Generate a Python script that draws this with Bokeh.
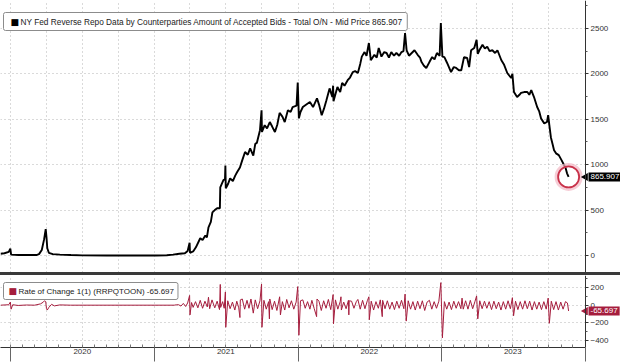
import pandas as pd
from bokeh.plotting import figure
from bokeh.models import Range1d, FixedTicker, Label, Div, BoxAnnotation
from bokeh.layouts import column
from bokeh.embed import file_html
from bokeh.resources import INLINE

# ---------------- data ----------------
price_dates = [
    "2019-12-06", "2019-12-16", "2019-12-27", "2019-12-31", "2020-01-02", "2020-01-21", "2020-02-14",
    "2020-03-06", "2020-03-13", "2020-03-20", "2020-03-26", "2020-03-30", "2020-04-01", "2020-04-03",
    "2020-04-07", "2020-04-17", "2020-05-05", "2020-06-02", "2020-07-01", "2020-09-01", "2020-11-02",
    "2021-01-04", "2021-02-01", "2021-02-17", "2021-03-05", "2021-03-19", "2021-03-26", "2021-03-31",
    "2021-04-01", "2021-04-09", "2021-04-16", "2021-04-27", "2021-05-03", "2021-05-10", "2021-05-14",
    "2021-05-18", "2021-05-24", "2021-05-28", "2021-06-03", "2021-06-09", "2021-06-16", "2021-06-17",
    "2021-06-25", "2021-06-29", "2021-06-30", "2021-07-01", "2021-07-07", "2021-07-12", "2021-07-19",
    "2021-07-25", "2021-07-30", "2021-08-06", "2021-08-12", "2021-08-19", "2021-08-26", "2021-09-01",
    "2021-09-09", "2021-09-14", "2021-09-18", "2021-09-26", "2021-09-30", "2021-10-01", "2021-10-08",
    "2021-10-14", "2021-10-21", "2021-10-27", "2021-11-03", "2021-11-09", "2021-11-15", "2021-11-22",
    "2021-11-28", "2021-12-06", "2021-12-13", "2021-12-18", "2021-12-28", "2021-12-31", "2022-01-03",
    "2022-01-07", "2022-01-13", "2022-01-21", "2022-01-31", "2022-02-08", "2022-02-18", "2022-02-24",
    "2022-03-02", "2022-03-08", "2022-03-14", "2022-03-22", "2022-03-29", "2022-03-31", "2022-04-01",
    "2022-04-11", "2022-04-18", "2022-04-23", "2022-04-29", "2022-05-07", "2022-05-13", "2022-05-20",
    "2022-05-26", "2022-06-02", "2022-06-08", "2022-06-12", "2022-06-19", "2022-06-24", "2022-06-30",
    "2022-07-05", "2022-07-14", "2022-07-20", "2022-07-25", "2022-08-01", "2022-08-08", "2022-08-14",
    "2022-08-20", "2022-08-26", "2022-09-02", "2022-09-08", "2022-09-15", "2022-09-21", "2022-09-26",
    "2022-09-30", "2022-10-04", "2022-10-10", "2022-10-17", "2022-10-24", "2022-11-01", "2022-11-07",
    "2022-11-11", "2022-11-17", "2022-11-23", "2022-12-01", "2022-12-08", "2022-12-14", "2022-12-20",
    "2022-12-27", "2022-12-30", "2023-01-03", "2023-01-08", "2023-01-15", "2023-01-25", "2023-02-01",
    "2023-02-07", "2023-02-14", "2023-02-20", "2023-02-27", "2023-03-07", "2023-03-12", "2023-03-17",
    "2023-03-25", "2023-03-31", "2023-04-03", "2023-04-07", "2023-04-15", "2023-04-21", "2023-04-27",
    "2023-05-03", "2023-05-10", "2023-05-17", "2023-05-23", "2023-06-02", "2023-06-09", "2023-06-17",
    "2023-06-27", "2023-06-30", "2023-07-04", "2023-07-12", "2023-07-18", "2023-07-22", "2023-07-30",
    "2023-08-07", "2023-08-12", "2023-08-17", "2023-08-24", "2023-09-01", "2023-09-06", "2023-09-11",
    "2023-09-19", "2023-09-26", "2023-09-29", "2023-10-02", "2023-10-06", "2023-10-10", "2023-10-14",
    "2023-10-19", "2023-10-26", "2023-11-02", "2023-11-08", "2023-11-12", "2023-11-16", "2023-11-20",
]
price_values = [
    20, 25, 40, 75, 10, 5, 5,
    5, 15, 60, 180, 290, 200, 80,
    30, 15, 10, 5, 2, 1, 1,
    1, 3, 10, 20, 25, 50, 140,
    30, 45, 90, 190, 170, 220, 200,
    310, 370, 475, 500, 520, 520, 750,
    830, 840, 990, 740, 790, 850, 820,
    880, 920, 970, 1050, 1140, 1110, 1180,
    1100, 1230, 1240, 1380, 1600, 1360, 1435,
    1400, 1470, 1420, 1360, 1440, 1570, 1530,
    1470, 1600, 1580, 1635, 1650, 1905, 1510,
    1580, 1635, 1660, 1690, 1635, 1730, 1650,
    1545, 1620, 1710, 1840, 1745, 1870, 1700,
    1855, 1800, 1900, 1870, 1930, 1960, 2020,
    2030, 2010, 2110, 2190, 2240, 2200, 2340,
    2150, 2210, 2180, 2285, 2190, 2240, 2230,
    2180, 2240, 2200, 2230, 2200, 2240, 2250,
    2450, 2260, 2200, 2230, 2260, 2210, 2180,
    2130, 2090, 2065, 2130, 2185, 2160, 2230,
    2200, 2560, 2190, 2185, 2120, 2020, 2075,
    2065, 2040, 2040, 2185, 2175, 2075, 2260,
    2285, 2375, 2220, 2260, 2320, 2280, 2300,
    2250, 2260, 2230, 2260, 2150, 2100, 2010,
    1955, 2000, 1800, 1745, 1770, 1790, 1800,
    1800, 1770, 1820, 1745, 1635, 1590, 1510,
    1455, 1470, 1545, 1435, 1300, 1230, 1160,
    1125, 1105, 1050, 1000, 970, 905, 865.907,
]

roc_dates = [
    "2019-12-06", "2019-12-27", "2019-12-31", "2020-01-02", "2020-01-06", "2020-01-20", "2020-02-10",
    "2020-03-02", "2020-03-17", "2020-03-24", "2020-03-27", "2020-03-30", "2020-04-01", "2020-04-03",
    "2020-04-07", "2020-04-14", "2020-04-21", "2020-05-05", "2020-06-01", "2021-02-20", "2021-02-26",
    # 2021
    "2021-03-03", "2021-03-09", "2021-03-15", "2021-03-21", "2021-03-26", "2021-03-31", "2021-04-01",
    "2021-04-05", "2021-04-09", "2021-04-15", "2021-04-21", "2021-04-27",
    "2021-05-03", "2021-05-09", "2021-05-15", "2021-05-18", "2021-05-21", "2021-05-27",
    "2021-06-03", "2021-06-09", "2021-06-15", "2021-06-17", "2021-06-18", "2021-06-23", "2021-06-27",
    "2021-06-30", "2021-07-01", "2021-07-06", "2021-07-12", "2021-07-18", "2021-07-24", "2021-07-29",
    "2021-08-03", "2021-08-06", "2021-08-07", "2021-08-12", "2021-08-18", "2021-08-24", "2021-08-29",
    "2021-09-03", "2021-09-09", "2021-09-14", "2021-09-20", "2021-09-26", "2021-09-30", "2021-10-01",
    "2021-10-06", "2021-10-12", "2021-10-18", "2021-10-20", "2021-10-21", "2021-10-27",
    "2021-11-02", "2021-11-08", "2021-11-15", "2021-11-17", "2021-11-22", "2021-11-28",
    "2021-12-03", "2021-12-09", "2021-12-15", "2021-12-21", "2021-12-27", "2021-12-31", "2022-01-03",
    # 2022
    "2022-01-07", "2022-01-13", "2022-01-19", "2022-01-25", "2022-01-31",
    "2022-02-05", "2022-02-11", "2022-02-17", "2022-02-18", "2022-02-23",
    "2022-03-01", "2022-03-07", "2022-03-13", "2022-03-19", "2022-03-25", "2022-03-31", "2022-04-01",
    "2022-04-06", "2022-04-12", "2022-04-18", "2022-04-20", "2022-04-21", "2022-04-27",
    "2022-05-03", "2022-05-09", "2022-05-10", "2022-05-11", "2022-05-17", "2022-05-23", "2022-05-29",
    "2022-06-02", "2022-06-08", "2022-06-14", "2022-06-20", "2022-06-26", "2022-06-30", "2022-07-01",
    "2022-07-06", "2022-07-12", "2022-07-18", "2022-07-24", "2022-07-29",
    "2022-08-03", "2022-08-04", "2022-08-10", "2022-08-16", "2022-08-22", "2022-08-28",
    "2022-09-03", "2022-09-09", "2022-09-15", "2022-09-21", "2022-09-27", "2022-09-30", "2022-10-03",
    "2022-10-08", "2022-10-14", "2022-10-20", "2022-10-26",
    "2022-11-01", "2022-11-07", "2022-11-13", "2022-11-19", "2022-11-25",
    "2022-12-01", "2022-12-07", "2022-12-13", "2022-12-19", "2022-12-25", "2022-12-30", "2023-01-03",
    # 2023
    "2023-01-08", "2023-01-14", "2023-01-20", "2023-01-26",
    "2023-02-01", "2023-02-07", "2023-02-13", "2023-02-19", "2023-02-22", "2023-02-25",
    "2023-03-03", "2023-03-09", "2023-03-15", "2023-03-21", "2023-03-27", "2023-03-31", "2023-04-03",
    "2023-04-08", "2023-04-14", "2023-04-20", "2023-04-26",
    "2023-05-02", "2023-05-08", "2023-05-14", "2023-05-20", "2023-05-26",
    "2023-06-01", "2023-06-07", "2023-06-13", "2023-06-19", "2023-06-25", "2023-06-30", "2023-07-03",
    "2023-07-08", "2023-07-14", "2023-07-20", "2023-07-26",
    "2023-08-01", "2023-08-07", "2023-08-13", "2023-08-19", "2023-08-25", "2023-08-31",
    "2023-09-06", "2023-09-12", "2023-09-18", "2023-09-24", "2023-09-29", "2023-10-02",
    "2023-10-07", "2023-10-13", "2023-10-19", "2023-10-25", "2023-10-31",
    "2023-11-06", "2023-11-12", "2023-11-17", "2023-11-20",
]
roc_values = [
    0, 5, 35, -45, 5, -3, 2,
    0, 15, 35, 50, 40, -40, -55,
    -25, 10, -8, 3, 0, 0, 5,
    # 2021
    5, -10, 20, -15, 25, 110, -110,
    30, -25, 40, -30, 55,
    -35, 45, -20, 90, -40, 60,
    -30, 45, -50, 235, -25, 40, -35,
    150, -250, 50, -40, 35, -55, 45,
    -30, -140, 60, 70, -45, 55, -35,
    70, -90, 60, -40, 50, 240, -250,
    55, -45, 40, -155, 70, -50,
    45, -60, 95, -110, 40, -55,
    65, -30, 50, -45, 35, 210, -340,
    # 2022
    50, 60, -35, 40, -45,
    55, -40, -130, 70, 45,
    -60, 50, -35, 65, -50, 120, -210,
    60, -45, 40, 95, -55, 35,
    -40, 55, -110, 50, 45, -35, 40,
    65, -45, 55, -40, 50, 95, -165,
    45, -55, 40, -35, 60,
    -130, 55, -40, 50, -45, 35,
    -50, 45, -35, 55, -40, 125, -180,
    50, -45, 40, -55,
    45, -40, 50, -60, 35,
    55, -45, 40, -35, 45, 255, -370,
    # 2023
    40, -45, 35, -50,
    45, -35, 40, -40, 80, -45,
    50, -45, 55, -40, 45, 105, -155,
    50, -40, 45, -35,
    40, -50, 45, -40, 35,
    -55, 40, -45, 50, -40, 85, -120,
    45, -50, 40, -45,
    50, -40, 45, -55, 40, -45,
    35, -50, 40, -45, 80, -205,
    45, -50, 40, -55, 35,
    -45, 40, 25, -65.697,
]

year_labels = ["2020", "2021", "2022", "2023"]
year_starts = ["2020-01-01", "2021-01-01", "2022-01-01", "2023-01-01", "2024-01-01"]
year_mids = ["2020-07-01", "2021-07-01", "2022-07-01", "2023-07-01"]
quarter_starts = [f"{y}-{m:02d}-01" for y in (2020, 2021, 2022, 2023) for m in (1, 4, 7, 10)]
month_starts = ["2019-12-01"] + [f"{y}-{m:02d}-01" for y in (2020, 2021, 2022, 2023) for m in range(1, 13)]
price_ticks = [0, 500, 1000, 1500, 2000, 2500]
price_minor = [250, 750, 1250, 1750, 2250, 2750]
roc_ticks = [-400, -200, 0, 200]
roc_minor = [-300, -100, 100, 300]
last_price = 865.907
last_roc = -65.697
price_title = "NY Fed Reverse Repo Data by Counterparties Amount of Accepted Bids - Total O/N - Mid Price 865.907"
roc_title = "Rate of Change 1(1) (RRPQTOON) -65.697"


def ms(d):
    return int(pd.Timestamp(d).value // 10**6)


FONT = "Liberation Sans"
GRID = "#b4b4b4"
RED = "#a51d3d"
W = 620
TOP_H = 272          # top frame height
BOT_FRAME = 72       # bottom frame height
BOT_AXIS = 15        # room for the year labels

X_START = ms("2019-12-06")
AXIS_AT = ms("2024-01-02")      # where the right-hand value axis sits
X_END = ms("2024-03-31")        # frame continues under the value labels
x_range = Range1d(X_START, X_END)


def style_right_axis(ax, ticks, minor):
    ax.fixed_location = AXIS_AT
    ax.ticker = FixedTicker(ticks=ticks, minor_ticks=minor)
    ax.axis_line_color = "#333333"
    ax.major_tick_out = 3
    ax.major_tick_in = 0
    ax.minor_tick_out = 2
    ax.minor_tick_in = 0
    ax.major_tick_line_color = "#333333"
    ax.minor_tick_line_color = "#555555"
    ax.major_label_standoff = 2
    ax.major_label_text_font = FONT
    ax.major_label_text_font_size = "8px"
    ax.major_label_text_color = "#333333"


def style_grids(p):
    p.xgrid.ticker = FixedTicker(ticks=[ms(d) for d in quarter_starts])
    for g in (p.xgrid, p.ygrid):
        g.grid_line_color = GRID
        g.grid_line_dash = "1 3"
        g.grid_line_width = 1
    # keep the label strip right of the value axis clean
    p.add_layout(BoxAnnotation(left=AXIS_AT, fill_color="white", fill_alpha=1,
                               line_color=None, level="underlay"))


def legend_box(p, text, y_screen, color, size, width_pad):
    p.add_layout(Label(x=3, y=y_screen, x_units="screen", y_units="screen", text=text,
                       text_align="left", text_baseline="middle", text_color="#222222",
                       text_font=FONT, text_font_size=size,
                       background_fill_color="white", border_line_color="#8c8c8c",
                       border_line_width=1, border_radius=2,
                       padding=dict(left=width_pad, right=4, top=4, bottom=4)))
    p.add_layout(Label(x=width_pad - 7, y=y_screen, x_units="screen", y_units="screen",
                       text="\u25a0", text_align="left", text_baseline="middle",
                       text_color=color, text_font="DejaVu Sans", text_font_size="9px"))


def value_box(p, yval, text, fill):
    p.scatter([AXIS_AT], [yval], marker="triangle", angle=1.5708, size=8,
              fill_color=fill, line_color=None)
    p.add_layout(Label(x=AXIS_AT, y=yval, x_offset=3, text=text,
                       text_align="left", text_baseline="middle", text_color="white",
                       text_font=FONT, text_font_size="8px",
                       background_fill_color=fill, padding=2))


# ---------------- top panel ----------------
p1 = figure(width=W, height=TOP_H, x_range=x_range, y_range=Range1d(-187, 2808),
            x_axis_type="datetime", x_axis_location=None, y_axis_location="right",
            output_backend="svg", toolbar_location=None,
            min_border_left=0, min_border_top=0, min_border_bottom=0, min_border_right=0)
p1.outline_line_color = None
style_grids(p1)
style_right_axis(p1.yaxis[0], price_ticks, price_minor)

p1.line(pd.to_datetime(price_dates), price_values, line_color="black", line_width=1.9)
p1.scatter([pd.Timestamp(price_dates[-1])], [price_values[-1]], marker="circle", size=24,
           fill_color=None, line_color="#f2b8c4", line_width=4, line_alpha=0.7)
p1.scatter([pd.Timestamp(price_dates[-1])], [price_values[-1]], marker="circle", size=21,
           fill_color=None, line_color="#c8324a", line_width=1.8)

legend_box(p1, price_title, TOP_H - 21, "black", "8.3px", 17)
value_box(p1, last_price, f"{last_price:.3f}", "black")

sep = Div(text="", width=W, height=3, margin=0, styles={"background-color": "#3a3a3a"})

# ---------------- bottom panel ----------------
p2 = figure(width=W, height=BOT_FRAME + BOT_AXIS, x_range=x_range, y_range=Range1d(-479, 336),
            x_axis_type="datetime", y_axis_location="right",
            output_backend="svg", toolbar_location=None,
            min_border_left=0, min_border_top=0, min_border_bottom=BOT_AXIS, min_border_right=0)
p2.outline_line_color = None
style_grids(p2)
style_right_axis(p2.yaxis[0], roc_ticks, roc_minor)

bx = p2.xaxis[0]
bx.bounds = (X_START, AXIS_AT)
bx.ticker = FixedTicker(ticks=[ms(d) for d in month_starts], minor_ticks=[ms(d) for d in year_starts])
overrides = {ms(d): "" for d in month_starts}
overrides.update({ms(d): lab for d, lab in zip(year_mids, year_labels)})
bx.major_label_overrides = overrides
bx.major_tick_out = 0
bx.major_tick_in = 3
bx.major_tick_line_color = "#777777"
bx.minor_tick_out = 14
bx.minor_tick_in = 0
bx.minor_tick_line_color = "#666666"
bx.axis_line_color = "#333333"
bx.major_label_standoff = -13
bx.major_label_text_font = FONT
bx.major_label_text_font_size = "8px"
bx.major_label_text_color = "#333333"

p2.line(pd.to_datetime(roc_dates), roc_values, line_color=RED, line_width=1)

legend_box(p2, roc_title, BOT_FRAME - 15.5, RED, "8px", 15)
value_box(p2, last_roc, f"{last_roc:.3f}", RED)

layout = column(p1, sep, p2, spacing=0)
open("out.html", "w").write(file_html(layout, INLINE))
